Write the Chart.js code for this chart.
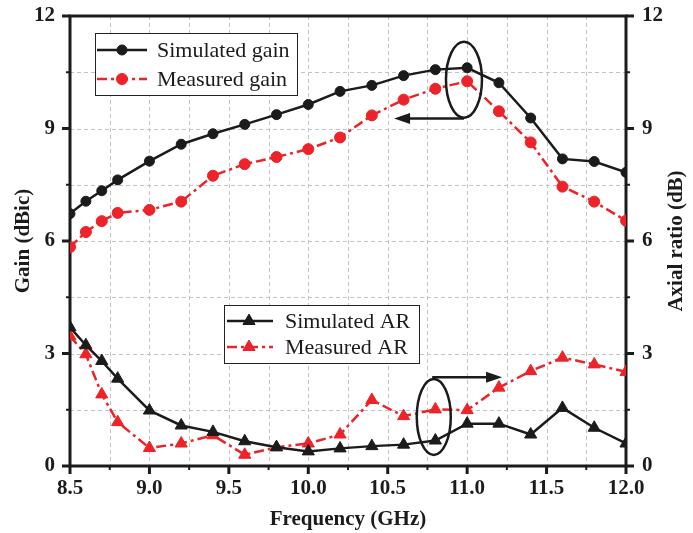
<!DOCTYPE html>
<html>
<head>
<meta charset="utf-8">
<script src="https://cdn.jsdelivr.net/npm/chart.js@4.4.1/dist/chart.umd.min.js"></script>
<style>
html,body{margin:0;padding:0;background:#fff;}
canvas{display:block;}
</style>
</head>
<body>
<canvas id="c" width="693" height="533"></canvas>
<script>
// ---- data ----
const freq = [8.5, 8.6, 8.7, 8.8, 9.0, 9.2, 9.4, 9.6, 9.8, 10.0, 10.2, 10.4, 10.6, 10.8, 11.0, 11.2, 11.4, 11.6, 11.8, 12.0];
const simGain = [6.73, 7.06, 7.34, 7.63, 8.13, 8.58, 8.86, 9.11, 9.37, 9.64, 9.99, 10.15, 10.41, 10.57, 10.62, 10.22, 9.28, 8.19, 8.12, 7.83];
const measGain = [5.84, 6.24, 6.53, 6.75, 6.83, 7.05, 7.74, 8.05, 8.24, 8.45, 8.76, 9.35, 9.77, 10.06, 10.26, 9.46, 8.63, 7.45, 7.05, 6.54];
const simAR = [3.70, 3.22, 2.80, 2.33, 1.48, 1.08, 0.91, 0.66, 0.50, 0.39, 0.47, 0.53, 0.57, 0.68, 1.13, 1.13, 0.84, 1.55, 1.02, 0.60];
const measAR = [3.46, 2.98, 1.91, 1.17, 0.48, 0.60, 0.82, 0.30, 0.50, 0.60, 0.84, 1.76, 1.33, 1.51, 1.49, 2.09, 2.53, 2.89, 2.71, 2.51];
const seriesNames = ['Simulated gain', 'Measured gain', 'Simulated AR', 'Measured AR'];
const xTickLabels = ['8.5', '9.0', '9.5', '10.0', '10.5', '11.0', '11.5', '12.0'];
const yTickLabels = ['0', '3', '6', '9', '12'];
const xTitle = 'Frequency (GHz)';
const yTitle = 'Gain (dBic)';
const y2Title = 'Axial ratio (dB)';

const BLACK = '#1b1b1b';
const RED = '#ec2329';
const GRID = '#c4c4c4';
const DASH = [10, 4, 3, 4];
const SERIF = '"Liberation Serif", "Times New Roman", serif';

const pts = arr => arr.map((v, i) => ({x: freq[i], y: v}));

const datasets = [
  {label: seriesNames[0], data: pts(simGain), yAxisID: 'y', borderColor: BLACK, backgroundColor: BLACK,
   borderWidth: 2.5, pointStyle: 'circle', pointRadius: 5, pointBorderWidth: 1, pointBorderColor: BLACK, pointBackgroundColor: BLACK},
  {label: seriesNames[1], data: pts(measGain), yAxisID: 'y', borderColor: RED, backgroundColor: RED,
   borderWidth: 2.5, borderDash: DASH, pointStyle: 'circle', pointRadius: 5.5, pointBorderWidth: 1, pointBorderColor: RED, pointBackgroundColor: RED},
  {label: seriesNames[2], data: pts(simAR), yAxisID: 'y2', borderColor: BLACK, backgroundColor: BLACK,
   borderWidth: 2.5, pointStyle: 'triangle', pointRadius: 7, pointBorderWidth: 1, pointBorderColor: BLACK, pointBackgroundColor: BLACK},
  {label: seriesNames[3], data: pts(measAR), yAxisID: 'y2', borderColor: RED, backgroundColor: RED,
   borderWidth: 2.5, borderDash: DASH, pointStyle: 'triangle', pointRadius: 7, pointBorderWidth: 1, pointBorderColor: RED, pointBackgroundColor: RED}
];

const near = (a, b) => Math.abs(a - b) < 1e-6;

function drawMarker(ctx, style, x, y, r, color) {
  ctx.save();
  ctx.fillStyle = color; ctx.strokeStyle = color; ctx.lineWidth = 1; ctx.setLineDash([]);
  Chart.helpers.drawPoint(ctx, {pointStyle: style, radius: r, rotation: 0, borderWidth: 1}, x, y);
  ctx.restore();
}

const framePlugin = {
  id: 'frame',
  beforeDatasetsDraw(chart) {
    const {ctx, chartArea: a, scales} = chart;
    ctx.save();
    // dashed grid
    ctx.strokeStyle = GRID; ctx.lineWidth = 1; ctx.setLineDash([4, 3]);
    for (let v = 8.75; v < 12; v += 0.25) {
      const px = Math.round(scales.x.getPixelForValue(v)) + 0.5;
      ctx.beginPath(); ctx.moveTo(px, a.top); ctx.lineTo(px, a.bottom); ctx.stroke();
    }
    for (let v = 1.5; v < 12; v += 1.5) {
      const py = Math.round(scales.y.getPixelForValue(v)) + 0.5;
      ctx.beginPath(); ctx.moveTo(a.left, py); ctx.lineTo(a.right, py); ctx.stroke();
    }
    ctx.setLineDash([]);
    ctx.strokeStyle = BLACK;
    ctx.lineWidth = 3;
    ctx.strokeRect(a.left, a.top, a.right - a.left, a.bottom - a.top);
    // x ticks
    for (let v = 8.5; v <= 12.0001; v += 0.25) {
      const px = scales.x.getPixelForValue(v);
      const major = near(v * 2, Math.round(v * 2));
      ctx.lineWidth = major ? 3 : 2;
      ctx.beginPath(); ctx.moveTo(px, a.bottom); ctx.lineTo(px, a.bottom + (major ? 8 : 4)); ctx.stroke();
    }
    // y ticks
    for (let v = 0; v <= 12.0001; v += 1.5) {
      const major = near(v / 3, Math.round(v / 3));
      ctx.lineWidth = major ? 3 : 2;
      const py = scales.y.getPixelForValue(v);
      ctx.beginPath(); ctx.moveTo(a.left, py); ctx.lineTo(a.left - (major ? 8 : 4), py); ctx.stroke();
      const py2 = scales.y2.getPixelForValue(v);
      ctx.beginPath(); ctx.moveTo(a.right, py2); ctx.lineTo(a.right + (major ? 8 : 4), py2); ctx.stroke();
    }
    ctx.restore();
  },
  afterDraw(chart) {
    const {ctx, scales, chartArea: a} = chart;
    ctx.save();
    // right axis title (reads bottom-to-top)
    ctx.translate(677, (a.top + a.bottom) / 2);
    ctx.rotate(-Math.PI / 2);
    ctx.fillStyle = BLACK;
    ctx.font = 'bold 21px ' + SERIF;
    ctx.textAlign = 'center'; ctx.textBaseline = 'middle';
    ctx.fillText(y2Title, 0, 0);
    ctx.restore();

    ctx.save();
    // legends
    const legends = [
      {box: [95, 33, 202, 62], items: [[0, 'circle', 5], [1, 'circle', 5.5]], rows: [50, 79], lx: [97, 147], mx: 122, tx: 157},
      {box: [224, 305, 195, 58], items: [[2, 'triangle', 7], [3, 'triangle', 7]], rows: [321, 347], lx: [227, 273], mx: 249, tx: 285}
    ];
    legends.forEach(L => {
      ctx.fillStyle = '#fff';
      ctx.fillRect(L.box[0], L.box[1], L.box[2], L.box[3]);
      ctx.strokeStyle = '#222'; ctx.lineWidth = 1; ctx.setLineDash([]);
      ctx.strokeRect(L.box[0] + 0.5, L.box[1] + 0.5, L.box[2], L.box[3]);
      L.items.forEach((it, k) => {
        const ds = datasets[it[0]];
        const y = L.rows[k];
        ctx.strokeStyle = ds.borderColor; ctx.lineWidth = 2.5;
        ctx.setLineDash(ds.borderDash || []);
        ctx.beginPath(); ctx.moveTo(L.lx[0], y); ctx.lineTo(L.lx[1], y); ctx.stroke();
        ctx.setLineDash([]);
        drawMarker(ctx, it[1], L.mx, y, it[2], ds.borderColor);
        ctx.fillStyle = BLACK;
        ctx.font = '22px ' + SERIF;
        ctx.textBaseline = 'middle'; ctx.textAlign = 'left';
        ctx.fillText(ds.label, L.tx, y + 1);
      });
    });
    // annotations: ellipses with arrows
    ctx.strokeStyle = BLACK; ctx.fillStyle = BLACK; ctx.lineWidth = 2.5; ctx.setLineDash([]);
    const ann = [
      {cx: 10.98, cy: 10.30, axis: 'y', rx: 18, ry: 38, ax0: 10.98, ax1: 10.54, ay: 9.27, dir: -1},
      {cx: 10.79, cy: 1.31, axis: 'y2', rx: 17, ry: 38, ax0: 10.78, ax1: 11.22, ay: 2.37, dir: 1}
    ];
    ann.forEach(A => {
      const ys = scales[A.axis];
      const cx = scales.x.getPixelForValue(A.cx), cy = ys.getPixelForValue(A.cy);
      ctx.beginPath(); ctx.ellipse(cx, cy, A.rx, A.ry, 0, 0, Math.PI * 2); ctx.stroke();
      const x0 = scales.x.getPixelForValue(A.ax0), x1 = scales.x.getPixelForValue(A.ax1), y = ys.getPixelForValue(A.ay);
      ctx.beginPath(); ctx.moveTo(x0, y); ctx.lineTo(x1 - A.dir * 12, y); ctx.stroke();
      ctx.beginPath(); ctx.moveTo(x1, y); ctx.lineTo(x1 - A.dir * 16, y - 5.5); ctx.lineTo(x1 - A.dir * 16, y + 5.5); ctx.closePath(); ctx.fill();
    });
    ctx.restore();
  }
};

const tickFont = {family: SERIF, size: 21, weight: 'bold'};
const titleFont = {family: SERIF, size: 21, weight: 'bold'};

new Chart(document.getElementById('c'), {
  type: 'line',
  data: {datasets},
  plugins: [framePlugin],
  options: {
    responsive: false,
    animation: false,
    devicePixelRatio: 1,
    layout: {padding: {top: 16, left: 0, right: 0, bottom: 0}},
    plugins: {legend: {display: false}, tooltip: {enabled: false}},
    scales: {
      x: {
        type: 'linear', min: 8.5, max: 12.0,
        afterFit(s) { s.height = 67; s.paddingLeft = 0; s.paddingRight = 0; },
        ticks: {stepSize: 0.25, autoSkip: false, maxRotation: 0, minRotation: 0, color: BLACK, font: tickFont, padding: 10,
          callback: v => { const i = Math.round((v - 8.5) * 2); return near((v - 8.5) * 2, i) ? xTickLabels[i] : ''; }},
        grid: {display: false, drawTicks: false},
        border: {display: false},
        title: {display: true, text: xTitle, color: BLACK, font: titleFont, padding: {top: 0, bottom: 1}}
      },
      y: {
        type: 'linear', position: 'left', min: 0, max: 12,
        afterFit(s) { s.width = 70; s.paddingTop = 0; s.paddingBottom = 0; },
        ticks: {stepSize: 1.5, autoSkip: false, color: BLACK, font: tickFont, padding: 15,
          callback: v => { const i = Math.round(v / 3); return near(v / 3, i) ? yTickLabels[i] : ''; }},
        grid: {display: false, drawTicks: false},
        border: {display: false},
        title: {display: true, text: yTitle, color: BLACK, font: titleFont, padding: {top: 11, bottom: 0}}
      },
      y2: {
        type: 'linear', position: 'right', min: 0, max: 12,
        afterFit(s) { s.width = 67; s.paddingTop = 0; s.paddingBottom = 0; },
        ticks: {stepSize: 1.5, autoSkip: false, color: BLACK, font: tickFont, padding: 16,
          callback: v => { const i = Math.round(v / 3); return near(v / 3, i) ? yTickLabels[i] : ''; }},
        grid: {display: false, drawTicks: false},
        border: {display: false},
        title: {display: false}
      }
    }
  }
});
</script>
</body>
</html>
